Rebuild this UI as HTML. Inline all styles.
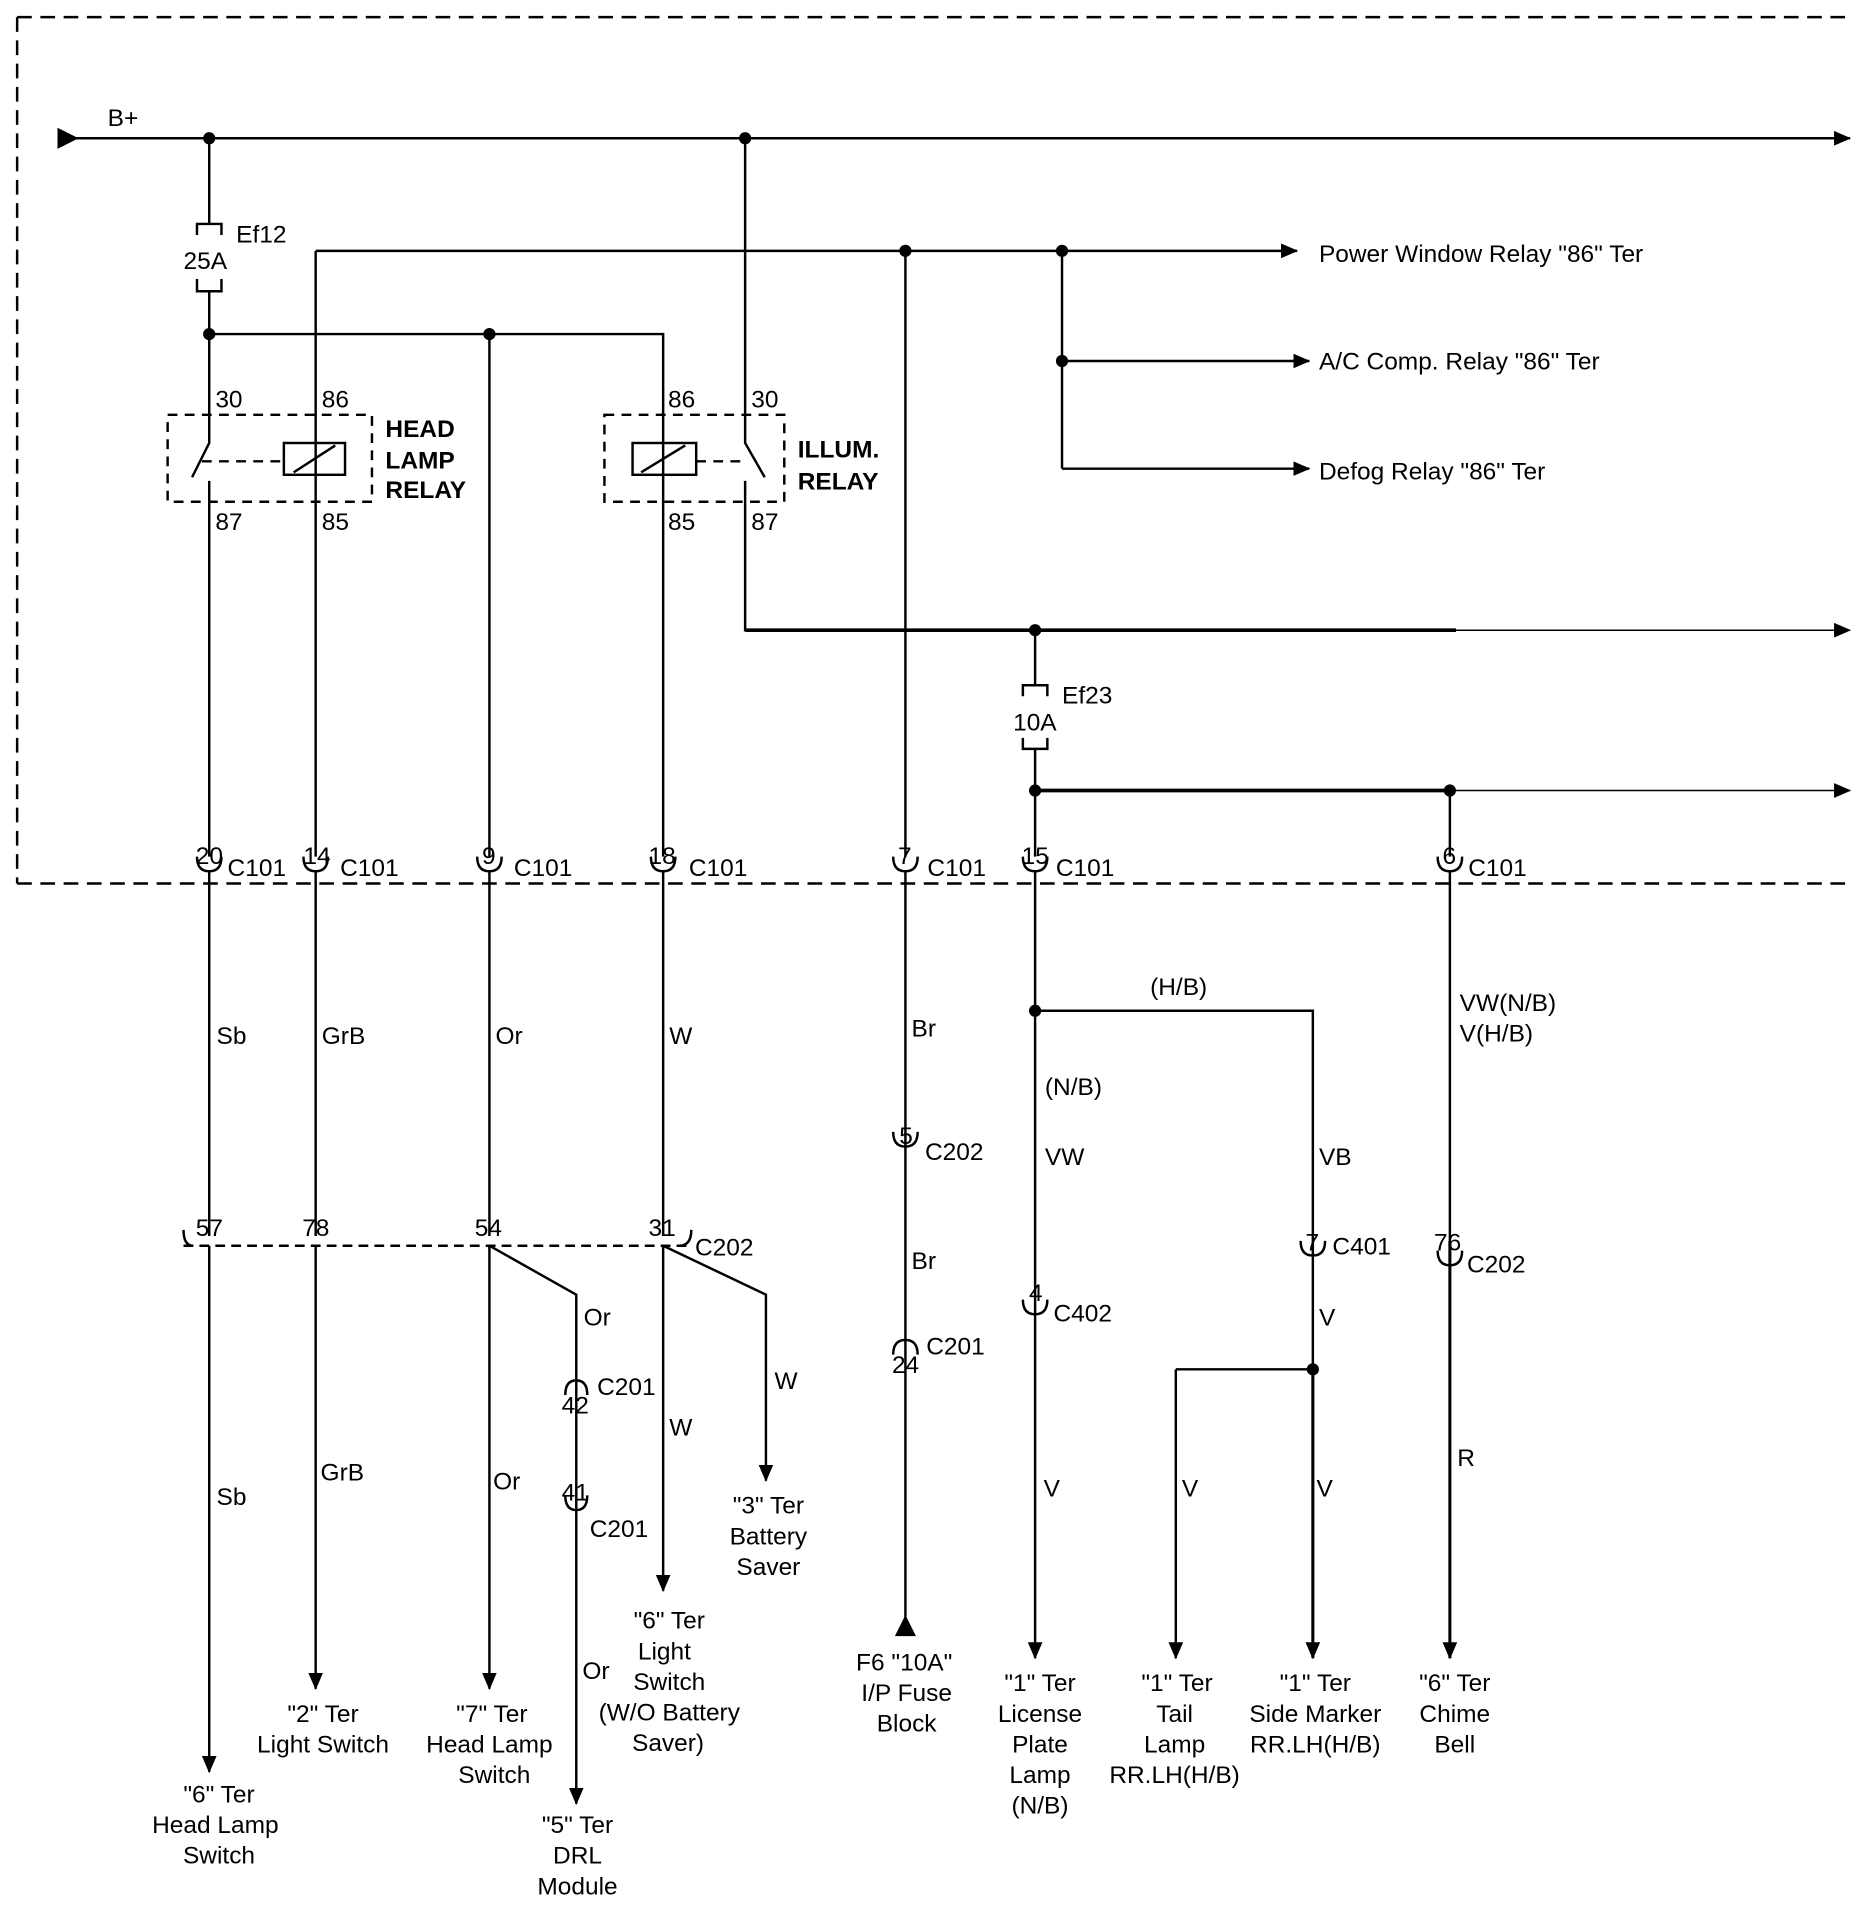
<!DOCTYPE html>
<html><head><style>html,body{margin:0;padding:0;background:#fff}svg{display:block}text{font-family:"Liberation Sans",sans-serif;font-size:20px;fill:#000}</style></head><body>
<svg width="1872" height="1920" viewBox="0 0 1530 1569" preserveAspectRatio="none" xmlns="http://www.w3.org/2000/svg">
<defs><marker id="a" markerWidth="14" markerHeight="12" refX="13" refY="6" orient="auto" markerUnits="userSpaceOnUse"><path d="M0,0 L14,6 L0,12z"/></marker></defs>
<g fill="none" stroke="#000" stroke-width="2">
<path d="M14,14 H1508 M14,14 V722 M14,722 H1508" stroke-dasharray="12,7"/>
<path d="M62,113 H1512" marker-end="url(#a)"/>
<path d="M48,106 L62,113 L48,120z" fill="#000"/>
<path d="M171,113 V183 M161,192 V183 H181 V192 M161,228 V238 H181 V228 M171,238 V340"/>
<path d="M171,273 H542 V340 M400,273 V700"/>
<path d="M258,205 H1060" marker-end="url(#a)"/>
<path d="M258,205 V700"/>
<path d="M868,205 V383"/>
<path d="M868,295 H1070" marker-end="url(#a)"/><path d="M868,383 H1070" marker-end="url(#a)"/>
<path d="M740,205 V700"/>
<path d="M609,113 V362 L625,390 M609,393 V515 H1190" />
<path d="M609,515 H1190" stroke-width="3"/>
<path d="M1190,515 H1512" stroke-width="1.2" marker-end="url(#a)"/>
<path d="M846,515 V560 M836,569 V560 H856 V569 M836,603 V612 H856 V603 M846,612 V700"/>
<path d="M846,646 H1185" stroke-width="3"/>
<path d="M1185,646 H1512" stroke-width="1.2" marker-end="url(#a)"/>
<path d="M1185,646 V700"/>
<path d="M137,339 H304 V410 H137z M165,377 H232 M569,377 H609 M494,339 H641 V410 H494z" stroke-dasharray="8,6"/>
<rect x="232" y="362" width="50" height="26"/><path d="M240,386 L274,364"/>
<path d="M171,340 V362 L157,390 M171,393 V700"/>
<rect x="517" y="362" width="52" height="26"/><path d="M524,386 L560,364"/>
<path d="M542,340 V700"/>
<path d="M161,700 Q161,712 171,712 Q181,712 181,700 M248,700 Q248,712 258,712 Q268,712 268,700 M390,700 Q390,712 400,712 Q410,712 410,700 M532,700 Q532,712 542,712 Q552,712 552,700 M730,700 Q730,712 740,712 Q750,712 750,700 M836,700 Q836,712 846,712 Q856,712 856,700 M1175,700 Q1175,712 1185,712 Q1195,712 1195,700"/>
<path d="M171,712 V1010 M258,712 V1010 M400,712 V1010 M542,712 V1010"/>
<path d="M150,1018 H565" stroke-dasharray="8,5"/>
<path d="M150,1005 Q150,1018 158,1018 M555,1018 Q565,1018 565,1005"/>
<path d="M171,1018 V1448" marker-end="url(#a)"/>
<path d="M258,1018 V1380" marker-end="url(#a)"/>
<path d="M400,1018 V1380" marker-end="url(#a)"/>
<path d="M400,1018 L471,1058 V1128 M462,1140 Q462,1128 471,1128 Q480,1128 480,1140 M462,1222 Q462,1234 471,1234 Q480,1234 480,1222"/>
<path d="M471,1128 V1474" marker-end="url(#a)"/>
<path d="M542,1018 V1300" marker-end="url(#a)"/>
<path d="M542,1018 L626,1058 V1210" marker-end="url(#a)"/>
<path d="M740,712 V1322 M730,925 Q730,937 740,937 Q750,937 750,925 M730,1107 Q730,1095 740,1095 Q750,1095 750,1107"/>
<path d="M733,1336 L740,1322 L747,1336z" fill="#000"/>
<path d="M846,712 V1050 M836,1062 Q836,1074 846,1074 Q856,1074 856,1062"/>
<path d="M846,1050 V1355" marker-end="url(#a)"/>
<path d="M846,826 H1073 V1010 M1063,1014 Q1063,1026 1073,1026 Q1083,1026 1083,1014 M1073,1010 V1119 M961,1119 H1073"/>
<path d="M961,1119 V1355" marker-end="url(#a)"/>
<path d="M1073,1119 V1355" marker-end="url(#a)" stroke-width="2.5"/>
<path d="M1185,712 V1014 M1175,1022 Q1175,1034 1185,1034 Q1195,1034 1195,1022"/>
<path d="M1185,1014 V1355" marker-end="url(#a)" stroke-width="2.5"/>
</g>
<g fill="#000">
<circle cx="171" cy="113" r="5"/><circle cx="609" cy="113" r="5"/><circle cx="740" cy="205" r="5"/><circle cx="868" cy="205" r="5"/><circle cx="868" cy="295" r="5"/><circle cx="171" cy="273" r="5"/><circle cx="400" cy="273" r="5"/><circle cx="846" cy="515" r="5"/><circle cx="846" cy="646" r="5"/><circle cx="1185" cy="646" r="5"/><circle cx="846" cy="826" r="5"/><circle cx="1073" cy="1119" r="5"/>
</g>
<text x="88" y="103">B+</text>
<text x="193" y="198">Ef12</text><text x="150" y="220">25A</text>
<text x="868" y="575">Ef23</text><text x="828" y="597">10A</text>
<text x="1078" y="214">Power Window Relay "86" Ter</text>
<text x="1078" y="302">A/C Comp. Relay "86" Ter</text>
<text x="1078" y="392">Defog Relay "86" Ter</text>
<text x="176" y="333">30</text><text x="263" y="333">86</text><text x="176" y="433">87</text><text x="263" y="433">85</text>
<text x="546" y="333">86</text><text x="614" y="333">30</text><text x="546" y="433">85</text><text x="614" y="433">87</text>
<text x="315" y="357" font-weight="bold">HEAD</text><text x="315" y="383" font-weight="bold">LAMP</text><text x="315" y="407" font-weight="bold">RELAY</text><text x="652" y="374" font-weight="bold">ILLUM.</text><text x="652" y="400" font-weight="bold">RELAY</text>
<text x="160" y="706">20</text><text x="186" y="716">C101</text>
<text x="248" y="706">14</text><text x="278" y="716">C101</text>
<text x="394" y="706">9</text><text x="420" y="716">C101</text>
<text x="530" y="706">18</text><text x="563" y="716">C101</text>
<text x="734" y="706">7</text><text x="758" y="716">C101</text>
<text x="835" y="706">15</text><text x="863" y="716">C101</text>
<text x="1179" y="706">6</text><text x="1200" y="716">C101</text>
<text x="177" y="853">Sb</text><text x="263" y="853">GrB</text><text x="405" y="853">Or</text><text x="547" y="853">W</text><text x="745" y="847">Br</text>
<text x="940" y="813">(H/B)</text><text x="854" y="895">(N/B)</text><text x="854" y="952">VW</text><text x="1078" y="952">VB</text>
<text x="1193" y="826">VW(N/B)</text><text x="1193" y="851">V(H/B)</text>
<text x="735" y="935">5</text><text x="756" y="948">C202</text><text x="745" y="1037">Br</text>
<text x="160" y="1010">57</text><text x="247" y="1010">78</text><text x="388" y="1010">54</text><text x="530" y="1010">31</text><text x="568" y="1026">C202</text>
<text x="1067" y="1022">7</text><text x="1089" y="1025">C401</text>
<text x="1172" y="1022">76</text><text x="1199" y="1040">C202</text>
<text x="841" y="1063">4</text><text x="861" y="1080">C402</text>
<text x="477" y="1083">Or</text><text x="1078" y="1083">V</text>
<text x="488" y="1140">C201</text><text x="459" y="1155">42</text>
<text x="757" y="1107">C201</text><text x="729" y="1122">24</text>
<text x="633" y="1135">W</text><text x="547" y="1173">W</text>
<text x="177" y="1230">Sb</text><text x="262" y="1210">GrB</text><text x="403" y="1217">Or</text>
<text x="459" y="1226">41</text><text x="482" y="1256">C201</text>
<text x="853" y="1223">V</text><text x="966" y="1223">V</text><text x="1076" y="1223">V</text><text x="1191" y="1198">R</text>
<text x="476" y="1372">Or</text>
<g text-anchor="middle">
<text x="179" y="1473">"6" Ter</text><text x="176" y="1498">Head Lamp</text><text x="179" y="1523">Switch</text>
<text x="264" y="1407">"2" Ter</text><text x="264" y="1432">Light Switch</text>
<text x="402" y="1407">"7" Ter</text><text x="400" y="1432">Head Lamp</text><text x="404" y="1457">Switch</text>
<text x="472" y="1498">"5" Ter</text><text x="472" y="1523">DRL</text><text x="472" y="1548">Module</text>
<text x="547" y="1331">"6" Ter</text><text x="543" y="1356">Light</text><text x="547" y="1381">Switch</text><text x="547" y="1406">(W/O Battery</text><text x="546" y="1431">Saver)</text>
<text x="628" y="1237">"3" Ter</text><text x="628" y="1262">Battery</text><text x="628" y="1287">Saver</text>
<text x="739" y="1365">F6 "10A"</text><text x="741" y="1390">I/P Fuse</text><text x="741" y="1415">Block</text>
<text x="850" y="1382">"1" Ter</text><text x="850" y="1407">License</text><text x="850" y="1432">Plate</text><text x="850" y="1457">Lamp</text><text x="850" y="1482">(N/B)</text>
<text x="962" y="1382">"1" Ter</text><text x="960" y="1407">Tail</text><text x="960" y="1432">Lamp</text><text x="960" y="1457">RR.LH(H/B)</text>
<text x="1075" y="1382">"1" Ter</text><text x="1075" y="1407">Side Marker</text><text x="1075" y="1432">RR.LH(H/B)</text>
<text x="1189" y="1382">"6" Ter</text><text x="1189" y="1407">Chime</text><text x="1189" y="1432">Bell</text>
</g>
</svg>
</body></html>
